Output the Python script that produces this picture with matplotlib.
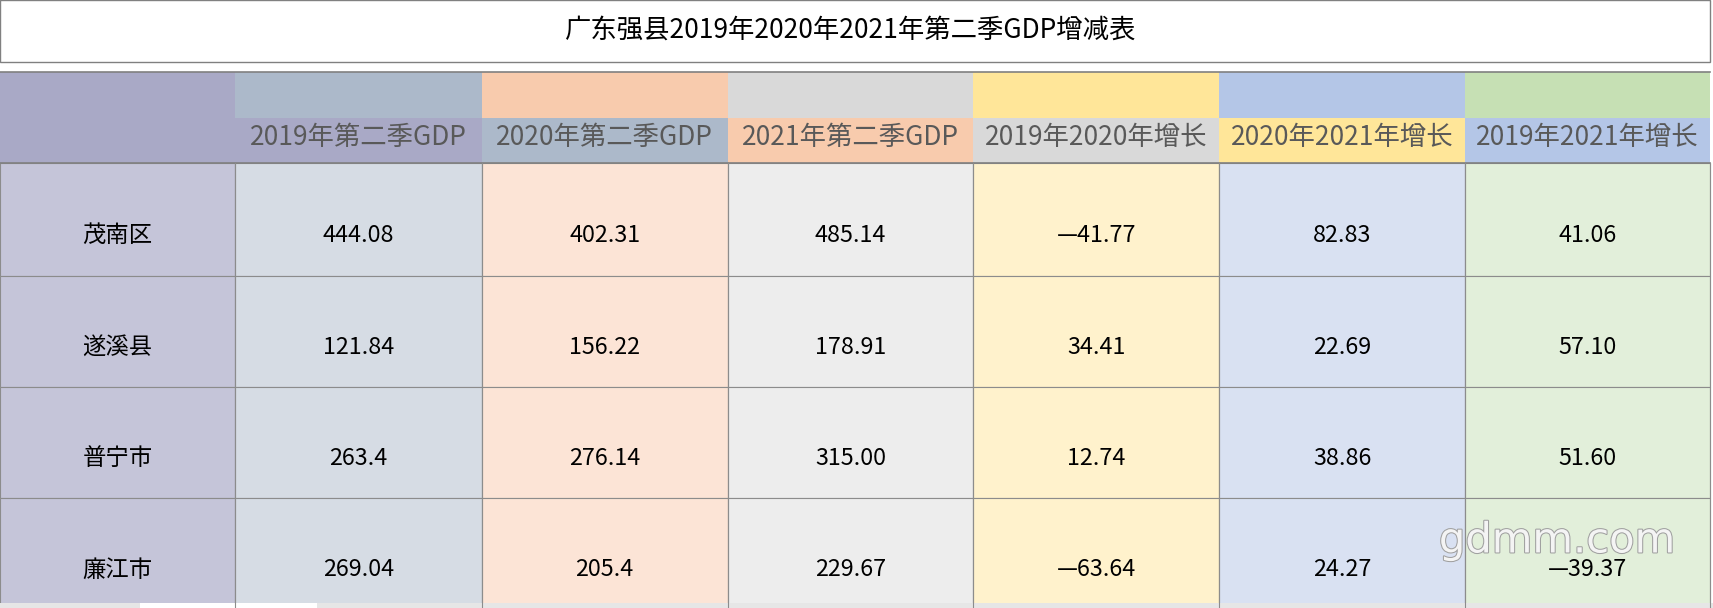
import matplotlib
matplotlib.use("Agg")
import matplotlib.pyplot as plt
from matplotlib import font_manager
from matplotlib.patches import Rectangle
import matplotlib.patheffects as pe

cjk = sorted({f.name for f in font_manager.fontManager.ttflist if "Sans CJK" in f.name})
cjk = [n for n in cjk if n.endswith("SC")] or cjk
plt.rcParams["font.family"] = (cjk[:1] or ["Noto Sans CJK SC"]) + ["DejaVu Sans"]

# ============================================================
# DATA
# ============================================================

title = "广东强县2019年2020年2021年第二季GDP增减表"

headers = ["2019年第二季GDP", "2020年第二季GDP", "2021年第二季GDP",
           "2019年2020年增长", "2020年2021年增长", "2019年2021年增长"]

counties = ["茂南区", "遂溪县", "普宁市", "廉江市"]

gdp_2019 = ["444.08", "121.84", "263.4", "269.04"]
gdp_2020 = ["402.31", "156.22", "276.14", "205.4"]
gdp_2021 = [485.14, 178.91, 315.00, 229.67]
growth_19_20 = [-41.77, 34.41, 12.74, -63.64]
growth_20_21 = [82.83, 22.69, 38.86, 24.27]
growth_19_21 = [41.06, 57.10, 51.60, -39.37]

# ============================================================
# LAYOUT (reference pixel grid)
# ============================================================

W, H = 1568, 558
col_x = [0, 215, 441, 666, 891, 1116, 1341, 1565]
row_y = [150, 253, 355, 457, 562]

top_colors = ["#a9a9c6", "#acb9ca", "#f8cbad", "#d9d9d9", "#ffe699", "#b4c6e7", "#c6e0b4"]
low_colors = ["#a9a9c6", "#a9a9c6", "#acb9ca", "#f8cbad", "#d9d9d9", "#ffe699", "#b4c6e7"]
body_colors = ["#c5c5d9", "#d6dce4", "#fce4d6", "#ededed", "#fff2cc", "#d9e1f2", "#e2efda"]

fig = plt.figure(figsize=(17.13, 6.08), dpi=100)
ax = fig.add_axes([0, 0, 1, 1])
ax.set_xlim(0, W)
ax.set_ylim(H, 0)
ax.axis("off")

# title box
ax.add_patch(Rectangle((0, 0), 1565, 57, facecolor="white", edgecolor="#808080", lw=1))
ax.text(779, 28, title, ha="center", va="center", fontsize=19, color="black")

# header
for c in range(7):
    x0, x1 = col_x[c], col_x[c + 1]
    ax.add_patch(Rectangle((x0, 66), x1 - x0, 42, facecolor=top_colors[c], lw=0))
    ax.add_patch(Rectangle((x0, 108), x1 - x0, 42, facecolor=low_colors[c], lw=0))
    if c > 0:
        ax.text((x0 + x1) / 2, 126, headers[c - 1], ha="center", va="center",
                fontsize=19, color="#595959")

def fmt(v):
    return f"—{abs(v):.2f}" if v < 0 else f"{v:.2f}"

columns = [counties, gdp_2019, gdp_2020,
           [f"{v:.2f}" for v in gdp_2021],
           [fmt(v) for v in growth_19_20],
           [fmt(v) for v in growth_20_21],
           [fmt(v) for v in growth_19_21]]

# body
for r in range(4):
    y0, y1 = row_y[r], row_y[r + 1]
    for c in range(7):
        x0, x1 = col_x[c], col_x[c + 1]
        ax.add_patch(Rectangle((x0, y0), x1 - x0, y1 - y0, facecolor=body_colors[c],
                               edgecolor="#8c8c8c", lw=0.8))
        ax.text((x0 + x1) / 2, y0 + 66, columns[c][r], ha="center", va="center",
                fontsize=16.8, color="black")

ax.plot([0, 1565], [66, 66], color="#808080", lw=1.2)
ax.plot([0, 1565], [150, 150], color="#808080", lw=1.2)
for x in col_x[1:]:
    ax.plot([x, x], [150, H], color="#8c8c8c", lw=0.8)

# bottom strip
ax.add_patch(Rectangle((0, 553), W, 5, facecolor="#e6e6e6", lw=0))
ax.add_patch(Rectangle((128, 553), 162, 5, facecolor="white", lw=0))

# watermark
ax.text(1425, 496, "gdmm.com", ha="center", va="center", fontsize=30,
        color="#f4f4f4", family="DejaVu Sans",
        path_effects=[pe.withStroke(linewidth=1.5, foreground="#a0a0a0")])

fig.savefig("out.png", dpi=100)
